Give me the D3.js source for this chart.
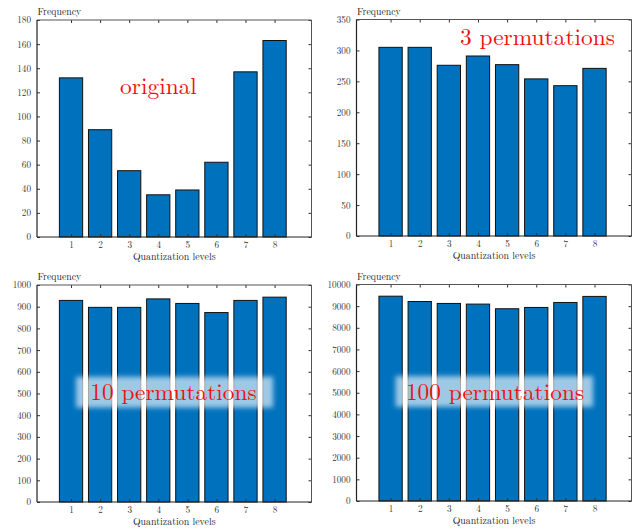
<!DOCTYPE html>
<html>
<head>
<meta charset="utf-8">
<script src="https://cdn.jsdelivr.net/npm/d3@7"></script>
<style>
  html, body { margin: 0; padding: 0; background: #fff; }
  svg { display: block; }
</style>
</head>
<body>
<svg id="chart" width="639" height="531"></svg>
<script>
// Histogram counts per quantization level
const levels = [1, 2, 3, 4, 5, 6, 7, 8];
const originalCounts = [132, 89, 55, 35, 39, 62, 137, 163];
const perm3Counts = [305, 305, 276, 291, 277, 254, 243, 271];
const perm10Counts = [929, 897, 897, 936, 915, 873, 929, 944];
const perm100Counts = [9460, 9215, 9125, 9095, 8880, 8940, 9170, 9450];

// Y tick labels for each panel
const ticksOriginal = [0, 20, 40, 60, 80, 100, 120, 140, 160, 180];
const ticksPerm3 = [0, 50, 100, 150, 200, 250, 300, 350];
const ticksPerm10 = [0, 100, 200, 300, 400, 500, 600, 700, 800, 900, 1000];
const ticksPerm100 = [0, 1000, 2000, 3000, 4000, 5000, 6000, 7000, 8000, 9000, 10000];

// Panel titles
const titles = ["original", "3 permutations", "10 permutations", "100 permutations"];
const xLabel = "Quantization levels";
const yLabel = "Frequency";

const serif = "Latin Modern Roman";

const svg = d3.select("#chart");
const defs = svg.append("defs");
defs.append("filter")
  .attr("id", "soft")
  .attr("x", "-20%").attr("y", "-50%")
  .attr("width", "140%").attr("height", "200%")
  .append("feGaussianBlur")
  .attr("stdDeviation", 2.6);

const panels = [
  { counts: originalCounts, ticks: ticksOriginal, title: titles[0],
    box: { l: 37, r: 311.5, t: 20, b: 237 },
    label: { x: 158.5, y: 94, halo: false } },
  { counts: perm3Counts, ticks: ticksPerm3, title: titles[1],
    box: { l: 356.5, r: 631.5, t: 19.5, b: 236 },
    label: { x: 537.5, y: 45, halo: false } },
  { counts: perm10Counts, ticks: ticksPerm10, title: titles[2],
    box: { l: 37, r: 311.5, t: 285, b: 502 },
    label: { x: 173.5, y: 399.5, halo: true } },
  { counts: perm100Counts, ticks: ticksPerm100, title: titles[3],
    box: { l: 356.5, r: 631.5, t: 284.5, b: 501 },
    label: { x: 495, y: 399.5, halo: true } }
];

const axisColor = "#333";
const tickLen = 3;

panels.forEach(p => {
  const { l, r, t, b } = p.box;
  const x = d3.scaleLinear().domain([-0.17, 9.27]).range([l, r]);
  const yMax = p.ticks[p.ticks.length - 1];
  const y = d3.scaleLinear().domain([0, yMax]).range([b, t]);
  const g = svg.append("g");

  // Bars
  const bw = x(0.8) - x(0);
  g.append("g").selectAll("rect")
    .data(levels.map((lv, i) => ({ lv, v: p.counts[i] })))
    .join("rect")
    .attr("x", d => x(d.lv) - bw / 2)
    .attr("y", d => y(d.v))
    .attr("width", bw)
    .attr("height", d => y(0) - y(d.v))
    .attr("fill", "#0072BD")
    .attr("stroke", "#111")
    .attr("stroke-width", 1);

  // Axes (ticks point inward on all four sides)
  const axStyle = sel => {
    sel.attr("font-family", serif).attr("font-size", 9.2);
    sel.select(".domain").remove();
    sel.selectAll(".tick line").attr("stroke", axisColor);
    sel.selectAll(".tick text").attr("fill", "#333");
  };
  g.append("g").attr("transform", `translate(${l},0)`)
    .call(d3.axisLeft(y).tickValues(p.ticks).tickFormat(d3.format("d"))
      .tickSizeInner(-tickLen).tickSizeOuter(0).tickPadding(6))
    .call(axStyle);
  g.append("g").attr("transform", `translate(${r},0)`)
    .call(d3.axisRight(y).tickValues(p.ticks).tickFormat("")
      .tickSizeInner(-tickLen).tickSizeOuter(0))
    .call(axStyle);
  g.append("g").attr("transform", `translate(0,${b})`)
    .call(d3.axisBottom(x).tickValues(levels).tickFormat(d3.format("d"))
      .tickSizeInner(-tickLen).tickSizeOuter(0).tickPadding(4))
    .call(axStyle);
  g.append("g").attr("transform", `translate(0,${t})`)
    .call(d3.axisTop(x).tickValues(levels).tickFormat("")
      .tickSizeInner(-tickLen).tickSizeOuter(0))
    .call(axStyle);

  // Box outline
  g.append("line").attr("x1", l).attr("x2", r).attr("y1", t).attr("y2", t)
    .attr("stroke", "#555").attr("stroke-width", 1);
  g.append("line").attr("x1", r).attr("x2", r).attr("y1", t).attr("y2", b)
    .attr("stroke", "#555").attr("stroke-width", 1);
  g.append("line").attr("x1", l).attr("x2", l).attr("y1", t).attr("y2", b)
    .attr("stroke", "#222").attr("stroke-width", 1.2);
  g.append("line").attr("x1", l).attr("x2", r).attr("y1", b).attr("y2", b)
    .attr("stroke", "#222").attr("stroke-width", 1.2);

  // Axis labels
  g.append("text")
    .attr("x", (l + r) / 2).attr("y", b + 22.5)
    .attr("text-anchor", "middle")
    .attr("fill", "#222")
    .attr("font-family", serif).attr("font-size", 9.9)
    .text(xLabel);
  g.append("text")
    .attr("x", l + 0.5).attr("y", t - 5)
    .attr("fill", "#222")
    .attr("font-family", serif).attr("font-size", 9.8)
    .text(yLabel);

  // Panel title, with a soft translucent backdrop where it sits over the bars
  if (p.label.halo) {
    g.append("rect")
      .attr("x", x(1.17)).attr("y", y(yMax * 0.577))
      .attr("width", x(7.95) - x(1.17))
      .attr("height", y(yMax * 0.435) - y(yMax * 0.577))
      .attr("fill", "#fff").attr("opacity", 0.62)
      .attr("filter", "url(#soft)");
  }
  g.append("text")
    .attr("x", p.label.x).attr("y", p.label.y)
    .attr("text-anchor", "middle")
    .attr("fill", "#f01010")
    .attr("font-family", serif).attr("font-size", 23.4)
    .text(p.title);
});
</script>
</body>
</html>
